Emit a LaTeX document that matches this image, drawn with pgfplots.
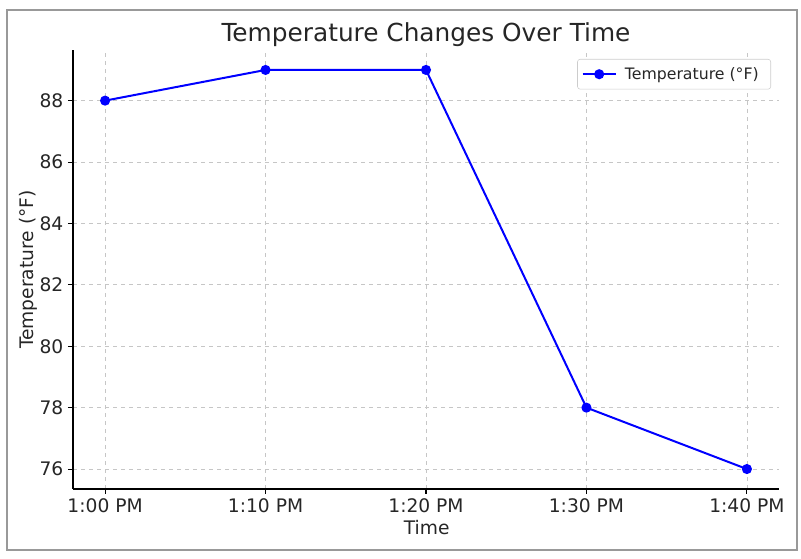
\documentclass[border=0pt]{standalone}
\usepackage{pgfplots}
\pgfplotsset{compat=1.18}
\usepackage{fontspec}
\setmainfont{DejaVu Sans}
\definecolor{txt}{HTML}{262626}
\begin{document}
\begin{tikzpicture}
\path (0,0) rectangle (600.75pt,419.25pt);
\draw[black!40, line width=1.1pt] (5.25pt,6.75pt) rectangle (597.75pt,411.75pt);
\begin{axis}[
  at={(54.75pt,52.5pt)}, anchor=south west,
  scale only axis, width=529.5pt, height=329.25pt,
  xmin=-0.2, xmax=4.2, ymin=75.35, ymax=89.65,
  axis x line*=bottom, axis y line*=left,
  axis line style={black, line width=1pt},
  xtick={0,1,2,3,4},
  xticklabels={1:00 PM,1:10 PM,1:20 PM,1:30 PM,1:40 PM},
  ytick={76,78,80,82,84,86,88},
  tick align=outside,
  major tick length=3.75pt,
  tick style={black, line width=0.8pt},
  /pgf/number format/assume math mode=true,
  ticklabel style={font=\fontsize{14}{16}\selectfont, text=txt},
  grid=major,
  grid style={dashed, gray!45, line width=0.6pt},
  legend style={at={(0.9887,0.9795)}, anchor=north east, draw=black!20, rounded corners=2pt, fill=white, font=\fontsize{11.8}{14}\selectfont, text=txt, inner xsep=3pt, inner ysep=4pt, nodes={inner xsep=6pt, inner ysep=2pt}},
  legend cell align=left,
  legend image code/.code={\draw[#1, mark repeat=2, mark phase=2] plot coordinates {(0cm,0cm)(0.44cm,0cm)(0.88cm,0cm)};},
]
\addplot[blue, line width=1.5pt, mark=*, mark size=3pt, mark options={fill=blue}] coordinates {
(0,88) (1,89) (2,89) (3,78) (4,76)
};
\addlegendentry{Temperature (°F)}
\end{axis}
\node[anchor=base, text=txt, font=\fontsize{18.6}{22}\selectfont] at (319.5pt,388pt) {Temperature Changes Over Time};
\node[anchor=base, text=txt, font=\fontsize{14}{16}\selectfont] at (320pt,18pt) {Time};
\node[anchor=base, rotate=90, text=txt, font=\fontsize{14}{16}\selectfont] at (24.75pt,217.1pt) {Temperature (°F)};
\end{tikzpicture}
\end{document}
